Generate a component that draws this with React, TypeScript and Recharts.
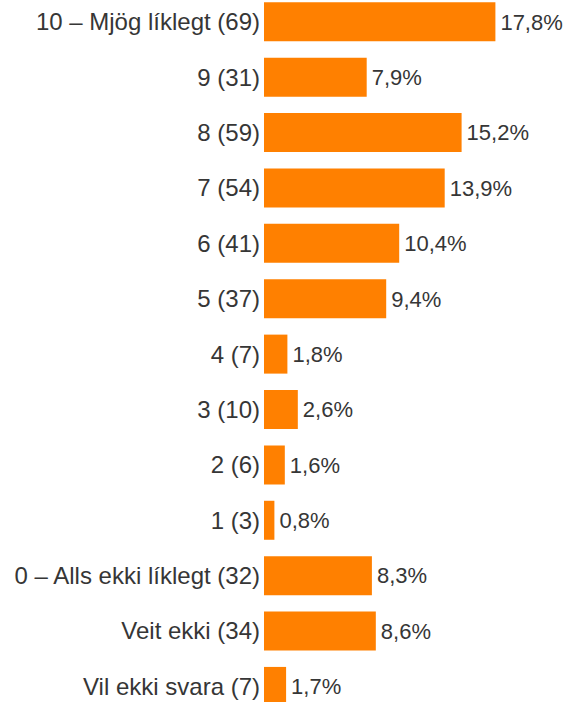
import { BarChart, Bar, XAxis, YAxis, LabelList } from "recharts"

const categories = [
  "10 – Mjög líklegt",
  "9",
  "8",
  "7",
  "6",
  "5",
  "4",
  "3",
  "2",
  "1",
  "0 – Alls ekki líklegt",
  "Veit ekki",
  "Vil ekki svara",
]
const counts = [69, 31, 59, 54, 41, 37, 7, 10, 6, 3, 32, 34, 7]
const percents = [17.8, 7.9, 15.2, 13.9, 10.4, 9.4, 1.8, 2.6, 1.6, 0.8, 8.3, 8.6, 1.7]

const data = categories.map((c, i) => ({
  name: `${c} (${counts[i]})`,
  value: percents[i],
}))

const font = "'Liberation Sans', Arial, sans-serif"

export default function App() {
  return (
    <div
      style={{
        position: "absolute",
        top: 0,
        left: 0,
        width: 567,
        height: 702,
        overflow: "hidden",
        fontFamily: font,
      }}
    >
      <div style={{ position: "absolute", top: -6, left: 8 }}>
        <BarChart
          width={559}
          height={720}
          data={data}
          layout="vertical"
          margin={{ top: 0, right: 43, bottom: 0, left: 0 }}
          barCategoryGap="15%"
        >
          <XAxis type="number" domain={[0, 20]} hide />
          <YAxis
            type="category"
            dataKey="name"
            width={256}
            axisLine={false}
            tickLine={false}
            tickSize={0}
            tickMargin={4}
            interval={0}
            tick={{ fill: "#363636", fontSize: 24, fontFamily: font }}
          />
          <Bar dataKey="value" fill="#ff8000" isAnimationActive={false}>
            <LabelList
              dataKey="value"
              position="right"
              offset={5}
              formatter={(v: number) => `${v.toFixed(1).replace(".", ",")}%`}
              style={{ fill: "#363636", fontSize: 22, fontFamily: font }}
            />
          </Bar>
        </BarChart>
      </div>
    </div>
  )
}
